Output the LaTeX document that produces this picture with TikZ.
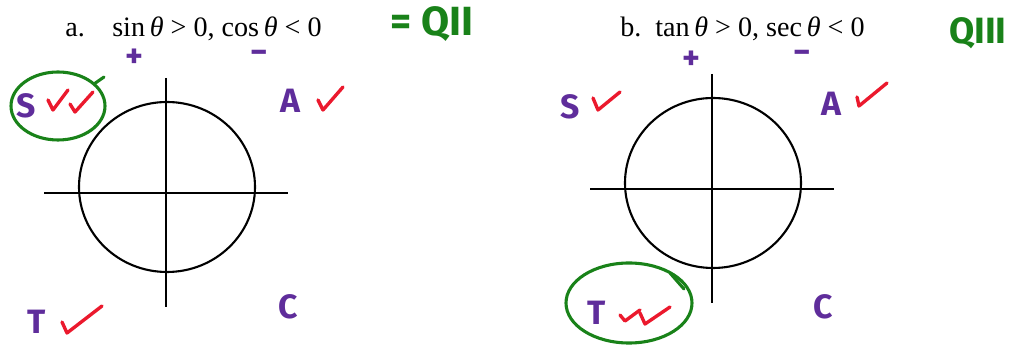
\documentclass[tikz,border=0pt]{standalone}
\usepackage{fontspec}
\setmainfont{Liberation Serif}
\newfontfamily\penfont{Fira Sans}
\usetikzlibrary{positioning}
\definecolor{penpurple}{RGB}{95,45,155}
\definecolor{penred}{RGB}{235,25,45}
\definecolor{pengreen}{RGB}{25,130,25}
\tikzset{
	unitcircle/.pic={
			\draw[line width=1.5pt] (0,0) ellipse [x radius=88, y radius=85];
			\draw[line width=1.5pt] (-123,6) -- (121,6);
			\draw[line width=1.5pt] (-1,-109) -- (-1,120);
		}
}
\tikzset{
	titletext/.style={font=\fontsize{20}{24}\selectfont, anchor=base west, inner sep=0pt}
}
\tikzset{
	penletter/.style={font=\fontsize{24}{28}\selectfont\penfont\bfseries, text=penpurple, inner sep=0pt}
}
\tikzset{
	pensign/.style={font=\fontsize{24}{28}\selectfont\penfont\bfseries, text=penpurple, inner sep=0pt}
}
\tikzset{
	penminus/.style={pensign, anchor=base, text height=0.42em, text depth=0pt}
}
\tikzset{
	pengreentext/.style={font=\fontsize{29}{32}\selectfont\penfont\bfseries, text=pengreen, inner sep=0pt}
}
\tikzset{
	pencheck/.style={draw=penred, line width=2.4pt, line cap=round, line join=round}
}
\tikzset{
	penloop/.style={draw=pengreen, line width=2.2pt, line cap=round}
}

\begin{document}
\begin{tikzpicture}[x=0.025cm, y=-0.025cm]

			\useasboundingbox (0,0) rectangle (1021,346);

			% part a
			\begin{scope}
				\node[titletext] (labela) at (65,37) {a.};
				\node[titletext] (conda) at (112,37) {sin\,\textit{θ} > 0, cos\,\textit{θ} < 0};
				\node[pengreentext] (quada) at (432,24) {= QII};

				\node[pensign] (plusa) at (134,58) {+};
				\node[penminus] (minusa) at (259,64) {−};

				\coordinate (oa) at (167,187);
				\pic at (oa) {unitcircle};

				\node[penletter] (sa) at (26,106) {S};
				\node[penletter] (aa) at (290,101) {A};
				\node[penletter] (ta) at (37,322) {T};
				\node[penletter] (ca) at (288,307) {C};

				\draw[pencheck] (48,100) -- (53,110) -- (68,90);
				\draw[pencheck] (70,104) -- (75,112) -- (93,92);
				\draw[pencheck] (318,100) -- (323,110) -- (343,87);
				\draw[pencheck] (62,322) -- (67,333) -- (102,306);

				\draw[penloop] (58,106) ellipse [x radius=47, y radius=34];
				\draw[penloop] (94,84) -- (104,77);
			\end{scope}

			% part b
			\begin{scope}
				\node[titletext] (labelb) at (620,37) {b.};
				\node[titletext] (condb) at (655,37) {tan\,\textit{θ} > 0, sec\,\textit{θ} < 0};
				\node[pengreentext, font=\fontsize{26}{30}\selectfont\penfont\bfseries] (quadb) at (978,33) {QIII};

				\node[pensign] (plusb) at (691,60) {+};
				\node[penminus] (minusb) at (802,64) {−};

				\coordinate (ob) at (713,183);
				\pic at (ob) {unitcircle};

				\node[penletter] (sb) at (570,107) {S};
				\node[penletter] (ab) at (831,104) {A};
				\node[penletter] (tb) at (597,313) {T};
				\node[penletter] (cb) at (823,307) {C};

				\draw[pencheck] (593,98) -- (598,110) -- (620,92);
				\draw[pencheck] (857,97) -- (859,106) -- (887,83);
				\draw[pencheck] (620,315) -- (625,321) -- (640,310);
				\draw[pencheck] (640,313) -- (645,324) -- (670,307);

				\draw[penloop] (629,303) ellipse [x radius=63, y radius=40];
				\draw[penloop] (670,273) -- (684,289);
			\end{scope}

		\end{tikzpicture}
\end{document}
